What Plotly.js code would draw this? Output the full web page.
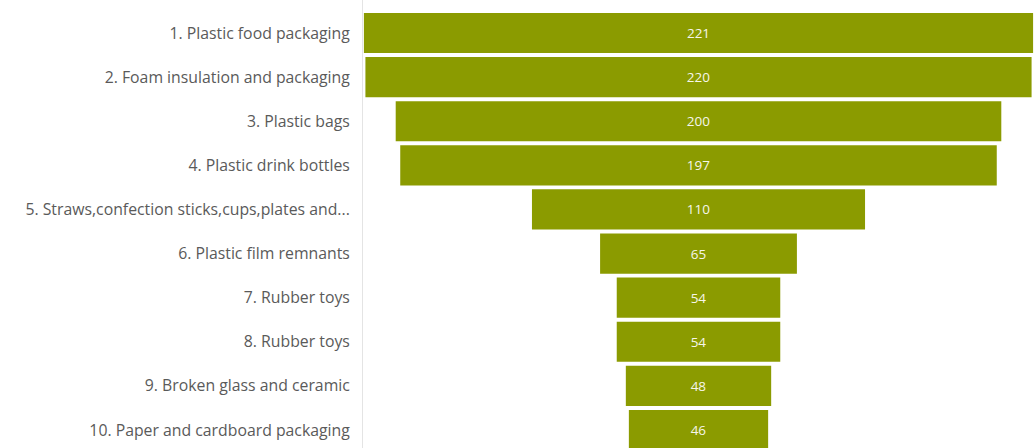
<!DOCTYPE html>
<html>
<head>
<meta charset="utf-8">
<script src="https://cdn.plot.ly/plotly-3.0.1.min.js"></script>
<style>html,body{margin:0;padding:0;background:#fff;}#chart{width:1034px;height:448px;}</style>
</head>
<body>
<div id="chart"></div>
<script>
const categories = [
  "1. Plastic food packaging",
  "2. Foam insulation and packaging",
  "3. Plastic bags",
  "4. Plastic drink bottles",
  "5. Straws,confection sticks,cups,plates and...",
  "6. Plastic film remnants",
  "7. Rubber toys",
  "8. Rubber toys",
  "9. Broken glass and ceramic",
  "10. Paper and cardboard packaging"
];
const values = [221, 220, 200, 197, 110, 65, 54, 54, 48, 46];

const trace = {
  type: 'funnel',
  y: categories,
  x: values,
  orientation: 'h',
  textinfo: 'value',
  textposition: 'inside',
  insidetextanchor: 'middle',
  textfont: {family: 'Open Sans, sans-serif', size: 13.5, color: '#f6f6ea'},
  marker: {color: '#8b9b00', line: {width: 0}},
  connector: {visible: false},
  hoverinfo: 'y+x',
  width: 0.91
};

const layout = {
  width: 1034,
  height: 448,
  margin: {l: 363, r: 0, t: 0, b: 0, pad: 0},
  paper_bgcolor: '#ffffff',
  plot_bgcolor: '#ffffff',
  showlegend: false,
  font: {family: 'Open Sans, sans-serif', color: '#5a5a5a'},
  xaxis: {
    range: [-110.8, 110.8],
    showgrid: false, zeroline: false, showticklabels: false, showline: false
  },
  yaxis: {
    type: 'category',
    range: [9.408, -0.748],
    showgrid: false, zeroline: false,
    showline: true, linecolor: '#e4e4e4', linewidth: 1,
    ticks: '',
    ticklabelstandoff: 9,
    tickfont: {family: 'Open Sans, sans-serif', size: 15.8, color: '#5a5a5a'}
  }
};

Plotly.newPlot('chart', [trace], layout, {displayModeBar: false, staticPlot: true});
</script>
</body>
</html>
